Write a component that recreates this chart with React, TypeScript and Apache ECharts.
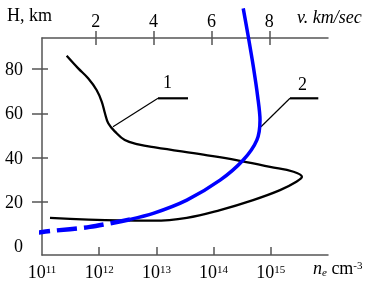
import React, { useEffect, useRef } from 'react';
import * as echarts from 'echarts';

// Curve 1: electron density n_e (cm^-3) vs altitude H (km)
const neValues = [2.7e11, 4.3e11, 6.4e11, 9.0e11, 1.11e12, 1.26e12, 1.44e12, 1.89e12, 2.8e12, 4.8e12, 9.5e12, 6.6e13, 2.5e14, 9.7e14, 2.5e15, 3.5e15, 2.8e15, 1.45e15, 4.9e14, 1.3e14, 3.4e13, 8.8e12, 2.3e12, 1.38e11];
const hCurve1 = [86.0, 80.3, 75.8, 70.5, 65.2, 60.0, 55.5, 51.7, 47.9, 46.0, 44.6, 41.3, 38.9, 35.8, 33.6, 31.3, 29.1, 25.3, 20.8, 16.3, 12.8, 11.5, 11.6, 12.8];

// Curve 2: velocity v (km/sec) vs altitude H (km)
const vUpper = [7.10, 7.28, 7.45, 7.60, 7.68, 7.57, 7.10, 6.30, 5.15, 3.99, 3.19];
const hUpper = [107.4, 94.2, 81.0, 67.5, 57.0, 47.9, 38.9, 29.8, 20.8, 14.8, 12.1];
const vLower = [3.19, 1.80, 0.42, 0.02];
const hLower = [12.1, 8.7, 6.8, 6.1];

// Ticks and labels
const hTicks = [20, 40, 60, 80];
const hLabels = [0, 20, 40, 60, 80];
const vTicks = [2, 4, 6, 8];
const neTicks = [1e12, 1e13, 1e14, 1e15];
const neLabels = [1e11, 1e12, 1e13, 1e14, 1e15];

export default function App() {
  const ref = useRef<HTMLDivElement>(null);
  useEffect(() => {
    const chart = echarts.init(ref.current!, null, { renderer: 'svg' });
    const font = 'Liberation Serif';
    const axisColor = '#555';
    const lineStyle = { color: axisColor, width: 1.5 };
    const curve1 = neValues.map((n, i) => [n, hCurve1[i]]);
    const curve2u = vUpper.map((v, i) => [v, hUpper[i]]);
    const curve2l = vLower.map((v, i) => [v, hLower[i]]);

    chart.setOption({
      animation: false,
      grid: { left: 42, right: 47, top: 38, bottom: 36, containLabel: false },
      xAxis: [
        {
          type: 'log', logBase: 10, min: 1e11, max: 1e16, position: 'bottom',
          axisLine: { show: true, onZero: false, lineStyle },
          axisTick: { show: true, inside: true, length: 8, customValues: neTicks, lineStyle },
          minorTick: { show: false },
          splitLine: { show: false },
          axisLabel: {
            customValues: neLabels,
            margin: 8,
            formatter: (v: number) => `{b|10}{s|${Math.round(Math.log10(v))}}`,
            rich: {
              b: { fontSize: 18, fontFamily: font, color: '#000' },
              s: { fontSize: 11, fontFamily: font, color: '#000', verticalAlign: 'top' },
            },
          },
        },
        {
          type: 'value', min: 0.145, max: 10.03, position: 'top',
          axisLine: { show: true, onZero: false, lineStyle },
          axisTick: { show: true, length: 7, customValues: vTicks, lineStyle },
          splitLine: { show: false },
          axisLabel: { customValues: vTicks, fontSize: 18, fontFamily: font, color: '#000', margin: 8 },
        },
        {
          type: 'value', min: 0.145, max: 10.03, position: 'top',
          axisLine: { show: false, onZero: false },
          axisTick: { show: true, inside: true, length: 7, customValues: vTicks, lineStyle },
          splitLine: { show: false },
          axisLabel: { show: false },
        },
      ],
      yAxis: [
        {
          type: 'value', min: -4, max: 94, position: 'left',
          axisLine: { show: true, onZero: false, lineStyle },
          axisTick: { show: true, length: 10, customValues: hTicks, lineStyle },
          splitLine: { show: false },
          axisLabel: { customValues: hLabels, fontSize: 18, fontFamily: font, color: '#000', margin: 19, padding: [0, 0, 9, 0] },
        },
        {
          type: 'value', min: -4, max: 94, position: 'left',
          axisLine: { show: false, onZero: false },
          axisTick: { show: true, inside: true, length: 6, customValues: hTicks, lineStyle },
          splitLine: { show: false },
          axisLabel: { show: false },
        },
      ],
      series: [
        {
          type: 'line', xAxisIndex: 0, yAxisIndex: 0, data: curve1, smooth: 0.4,
          symbol: 'none', clip: false, lineStyle: { color: '#000', width: 2.3 },
        },
        {
          type: 'line', xAxisIndex: 1, yAxisIndex: 0, data: curve2u, smooth: 0.3,
          symbol: 'none', clip: false, lineStyle: { color: '#0000ff', width: 3.5 },
        },
        {
          type: 'line', xAxisIndex: 1, yAxisIndex: 0, data: curve2l, smooth: 0.3,
          symbol: 'none', clip: false, lineStyle: { color: '#0000ff', width: 4.5, type: [20, 7] },
        },
      ],
      graphic: [
        { type: 'text', left: 7, top: 6, style: { text: 'H, km', font: `18px "${font}"`, fill: '#000' } },
        { type: 'text', left: 297, top: 8, style: { text: 'v. km/sec', font: `italic 18px "${font}"`, fill: '#000' } },
        {
          type: 'text', left: 313, top: 259,
          style: {
            text: '{i|n}{sub|e}{r| cm}{sup|-3}',
            rich: {
              i: { fontSize: 18, fontFamily: font, fontStyle: 'italic', fill: '#000', verticalAlign: 'bottom' },
              sub: { fontSize: 11, fontFamily: font, fontStyle: 'italic', fill: '#000', verticalAlign: 'bottom' },
              r: { fontSize: 18, fontFamily: font, fill: '#000', verticalAlign: 'bottom' },
              sup: { fontSize: 11, fontFamily: font, fill: '#000', verticalAlign: 'top' },
            },
          },
        },
        { type: 'text', left: 163, top: 73, style: { text: '1', font: `18px "${font}"`, fill: '#000' } },
        { type: 'text', left: 298, top: 75, style: { text: '2', font: `18px "${font}"`, fill: '#000' } },
        { type: 'line', shape: { x1: 113, y1: 126.7, x2: 158, y2: 98.3 }, style: { stroke: '#000', lineWidth: 1.2 } },
        { type: 'line', shape: { x1: 158, y1: 98.3, x2: 188, y2: 98.3 }, style: { stroke: '#000', lineWidth: 2.2 } },
        { type: 'line', shape: { x1: 261, y1: 126.7, x2: 290, y2: 98.3 }, style: { stroke: '#000', lineWidth: 1.2 } },
        { type: 'line', shape: { x1: 290, y1: 98.3, x2: 318.3, y2: 98.3 }, style: { stroke: '#000', lineWidth: 2.2 } },
      ],
    });
    return () => chart.dispose();
  }, []);
  return <div ref={ref} style={{ position: 'fixed', left: 0, top: 0, width: 375, height: 291 }} />;
}
